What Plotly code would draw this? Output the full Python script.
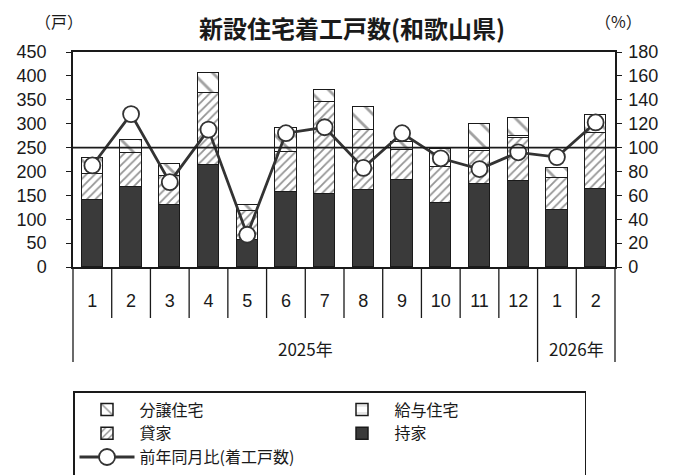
import plotly.graph_objects as go

# Month labels (two fiscal groups) and year group labels
months = ["1", "2", "3", "4", "5", "6", "7", "8", "9", "10", "11", "12", "1", "2"]
years = ["2025年", "2026年"]
year_span = [12, 2]

# Housing starts by type (units)
owner = [141, 168, 130, 214, 57, 158, 152, 162, 183, 134, 173, 180, 120, 164]     # 持家
rental = [53, 71, 60, 150, 60, 82, 194, 124, 62, 75, 70, 90, 67, 117]             # 貸家
company = [0, 0, 0, 0, 0, 0, 0, 0, 0, 0, 3, 5, 0, 0]                              # 給与住宅
for_sale = [34, 26, 26, 43, 13, 51, 24, 49, 17, 37, 54, 37, 21, 38]               # 分譲住宅
# Year-on-year ratio of total starts (%)
yoy = [85, 128, 71, 115, 27, 112, 117, 83, 112, 91, 82, 96, 92, 121]

FONT = "Liberation Sans, Arial, Noto Sans CJK JP, sans-serif"
JFONT = "Noto Sans CJK JP, sans-serif"
INK = "#1a1a1a"

x = list(range(len(months)))
n = len(months)

W, H = 688, 475
ML, MR, MT, MB = 73, 73, 52, 208
plot_h = H - MT - MB
plot_w = W - ML - MR

fig = go.Figure()

bar_line = dict(color=INK, width=1.5)
bar_w = 0.55

fig.add_trace(go.Bar(
    x=x, y=owner, name="持家", width=bar_w, legendrank=4,
    marker=dict(color="#3a3a3a", line=bar_line),
))
fig.add_trace(go.Bar(
    x=x, y=rental, name="貸家", width=bar_w, legendrank=3,
    marker=dict(color="white", line=bar_line,
                pattern=dict(shape="/", size=6, solidity=0.3,
                             fgcolor="#2a2a2a", bgcolor="white", fillmode="overlay")),
))
fig.add_trace(go.Bar(
    x=x, y=company, name="給与住宅", width=bar_w, legendrank=2,
    marker=dict(color="white", line=bar_line,
                pattern=dict(shape="-", size=9, solidity=0.1,
                             fgcolor="#777777", bgcolor="white", fillmode="overlay")),
))
fig.add_trace(go.Bar(
    x=x, y=for_sale, name="分譲住宅", width=bar_w, legendrank=1,
    marker=dict(color="white", line=bar_line,
                pattern=dict(shape="\\", size=14, solidity=0.2,
                             fgcolor="#444444", bgcolor="white", fillmode="overlay")),
))
fig.add_trace(go.Scatter(
    x=x, y=yoy, name="前年同月比(着工戸数)", yaxis="y2", legendrank=5,
    mode="lines+markers",
    line=dict(color="#333333", width=2.8),
    marker=dict(symbol="circle", size=16, color="white",
                line=dict(color="#333333", width=1.8)),
))

# Month dividers under the axis; longer ones mark year groups
group_edges = [0]
for s in year_span:
    group_edges.append(group_edges[-1] + s)

shapes = []
for k in range(n + 1):
    depth = 95 if k in group_edges else 51
    shapes.append(dict(type="line", xref="paper", yref="paper",
                       x0=k / n, x1=k / n, y0=0, y1=-depth / plot_h,
                       line=dict(color=INK, width=1.3)))
# 100% reference line
shapes.append(dict(type="line", xref="paper", yref="y2",
                   x0=0, x1=1, y0=100, y1=100,
                   line=dict(color=INK, width=1.8)))

annotations = []
for i, yl in enumerate(years):
    cx = (group_edges[i] + group_edges[i + 1]) / 2 / n
    annotations.append(dict(text=yl, xref="paper", yref="paper", x=cx, y=-81 / plot_h,
                            showarrow=False, font=dict(family=JFONT, size=17, color=INK),
                            xanchor="center", yanchor="middle"))
annotations += [
    dict(text="<b>新設住宅着工戸数(和歌山県)</b>", xref="paper", yref="paper",
         x=(352 - ML) / plot_w, y=1 + 25 / plot_h, showarrow=False,
         font=dict(family=JFONT, size=24, color=INK), xanchor="center", yanchor="middle"),
    dict(text="（戸）", xref="paper", yref="paper", x=(59 - ML) / plot_w,
         y=1 + 31 / plot_h, showarrow=False,
         font=dict(family=JFONT, size=16, color=INK), xanchor="center", yanchor="middle"),
    dict(text="（%）", xref="paper", yref="paper", x=(618 - ML) / plot_w,
         y=1 + 31 / plot_h, showarrow=False,
         font=dict(family=JFONT, size=16, color=INK), xanchor="center", yanchor="middle"),
]

fig.update_layout(
    width=W, height=H,
    margin=dict(l=ML, r=MR, t=MT, b=MB, pad=0, autoexpand=False),
    paper_bgcolor="white", plot_bgcolor="white",
    barmode="stack", bargap=0,
    showlegend=True,
    font=dict(family=FONT, color=INK),
    xaxis=dict(range=[-0.5, n - 0.5], tickvals=x, ticktext=months,
               tickfont=dict(family=FONT, size=18, color=INK),
               ticks="", showgrid=False, zeroline=False,
               showline=True, linecolor=INK, linewidth=1.5, mirror=True,
               ticklabelstandoff=17),
    yaxis=dict(range=[0, 450], tickvals=list(range(0, 451, 50)),
               tickfont=dict(family=FONT, size=18, color=INK),
               ticks="outside", ticklen=5, tickcolor=INK, tickwidth=1.3,
               showgrid=False, zeroline=False,
               showline=True, linecolor=INK, linewidth=1.5,
               ticklabelstandoff=16),
    yaxis2=dict(range=[0, 180], tickvals=list(range(0, 181, 20)), overlaying="y", side="right",
                tickfont=dict(family=FONT, size=18, color=INK),
                ticks="outside", ticklen=5, tickcolor=INK, tickwidth=1.3,
                showgrid=False, zeroline=False,
                showline=True, linecolor=INK, linewidth=1.5,
                ticklabelstandoff=3),
    legend=dict(orientation="h", traceorder="normal",
                x=0, xanchor="left", y=-(391 - (H - MB)) / plot_h, yanchor="top",
                entrywidth=185, entrywidthmode="pixels",
                bordercolor=INK, borderwidth=1.5, bgcolor="white",
                font=dict(family=JFONT, size=16, color=INK),
                itemwidth=55),
    shapes=shapes,
    annotations=annotations,
)

fig.write_html("out.html")
